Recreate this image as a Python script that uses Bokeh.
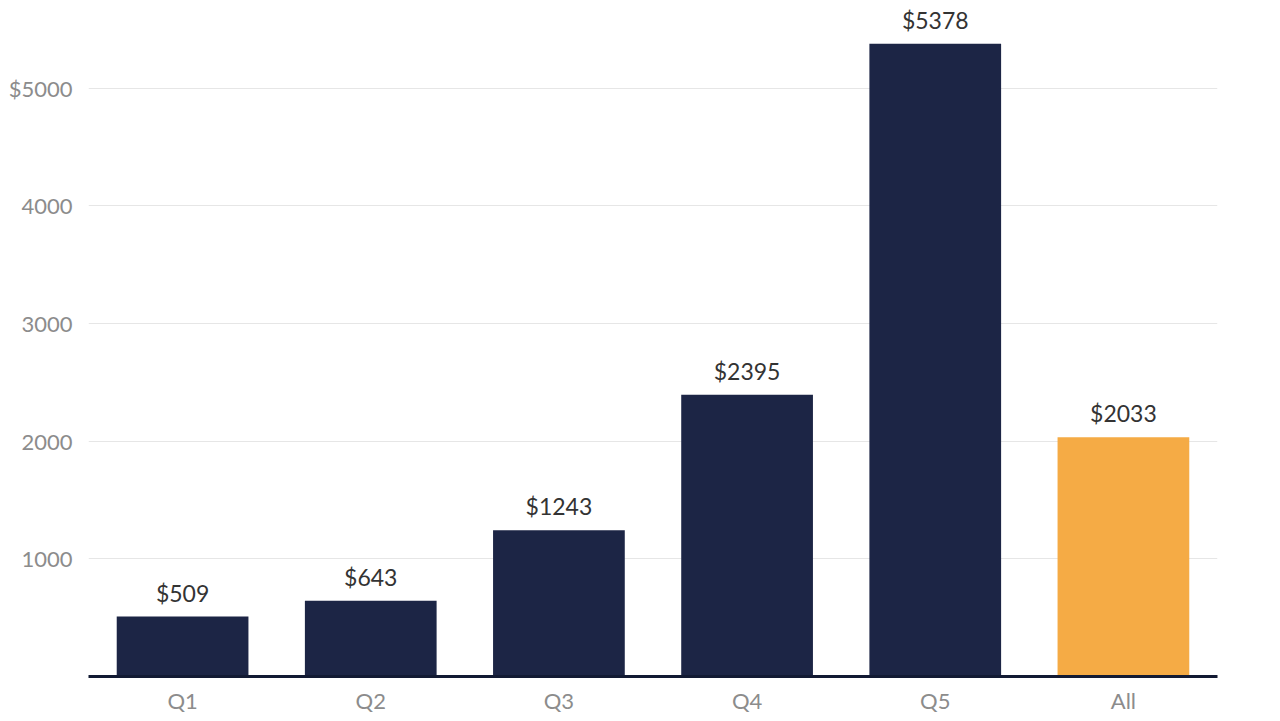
from bokeh.plotting import figure
from bokeh.models import ColumnDataSource, Range1d, FixedTicker, CustomJSTickFormatter
from bokeh.core.properties import value
from bokeh.embed import file_html
from bokeh.resources import INLINE

categories = ["Q1", "Q2", "Q3", "Q4", "Q5", "All"]
values = [509, 643, 1243, 2395, 5378, 2033]
colors = ["#1c2545", "#1c2545", "#1c2545", "#1c2545", "#1c2545", "#f5ab45"]
labels = ["$" + str(v) for v in values]
y_ticks = [1000, 2000, 3000, 4000, 5000]

src = ColumnDataSource(dict(cat=categories, val=values, color=colors, label=labels))

FONT = "Lato"

p = figure(x_range=categories, y_range=Range1d(0, 5745), width=1280, height=721,
           output_backend="svg", toolbar_location=None,
           min_border_left=88, min_border_right=63, min_border_top=0, min_border_bottom=45)
p.outline_line_color = None
p.background_fill_color = "white"
p.border_fill_color = "white"

p.vbar(x="cat", top="val", width=0.70, color="color", source=src, line_color=None)
p.text(x="cat", y="val", text="label", source=src, text_align="center",
       text_baseline="bottom", y_offset=-10, text_font=value(FONT),
       text_font_size="23px", text_color="#333333")

p.x_range.range_padding = 0
p.xgrid.grid_line_color = None
p.ygrid.grid_line_color = "#e6e6e6"
p.ygrid.grid_line_width = 1

p.yaxis.ticker = FixedTicker(ticks=y_ticks)
p.yaxis.formatter = CustomJSTickFormatter(code="return (tick == 5000 ? '$' : '') + tick;")
p.yaxis.axis_line_color = None
p.yaxis.major_tick_line_color = None
p.yaxis.minor_tick_line_color = None
p.yaxis.major_label_text_font = FONT
p.yaxis.major_label_text_font_size = "22px"
p.yaxis.major_label_text_color = "#8c8c8c"
p.yaxis.major_label_standoff = 10

p.xaxis.axis_line_color = "#121a33"
p.xaxis.axis_line_width = 3
p.xaxis.major_tick_line_color = None
p.xaxis.minor_tick_line_color = None
p.xaxis.major_label_text_font = FONT
p.xaxis.major_label_text_font_size = "22px"
p.xaxis.major_label_text_color = "#8c8c8c"
p.xaxis.major_label_standoff = 4

open("out.html", "w").write(file_html(p, INLINE))
